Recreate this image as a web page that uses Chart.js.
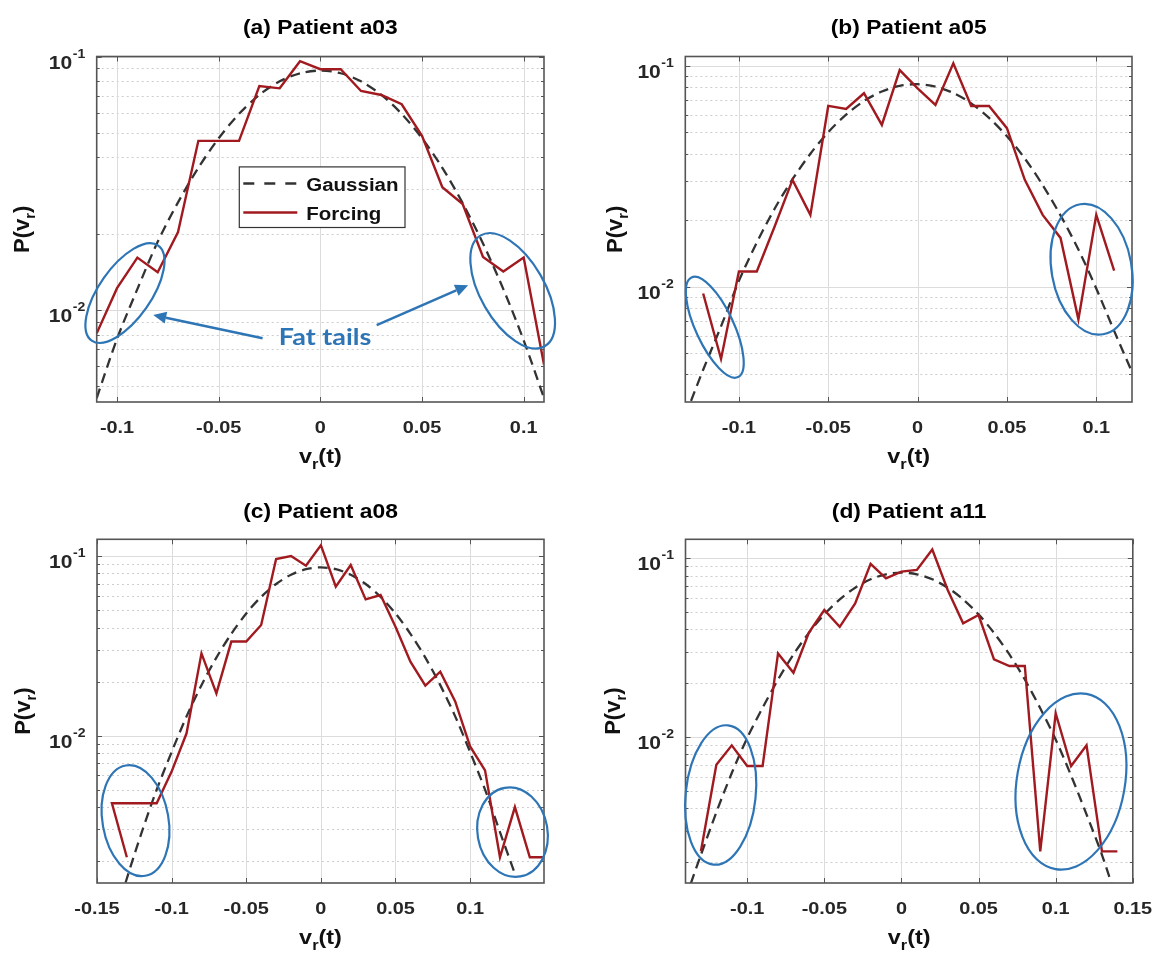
<!DOCTYPE html>
<html lang="en">
<head>
<meta charset="utf-8">
<title>P(v_r) – Gaussian vs forcing</title>
<script src="https://cdn.jsdelivr.net/npm/chart.js@4.4.1/dist/chart.umd.min.js"></script>
<style>
  html, body { margin: 0; padding: 0; background: #ffffff; }
  #figure { position: relative; width: 1161px; height: 954px; overflow: hidden; background: #ffffff; }
  #figure canvas { position: absolute; }
</style>
</head>
<body>
<div id="figure">
  <canvas id="pa" width="580" height="477" style="left:0px;top:0px"></canvas>
  <canvas id="pb" width="581" height="477" style="left:580px;top:0px"></canvas>
  <canvas id="pc" width="580" height="477" style="left:0px;top:477px"></canvas>
  <canvas id="pd" width="581" height="477" style="left:580px;top:477px"></canvas>
</div>
<script>
// ---------- Patient a03 ----------
const binsA = [-0.11, -0.10, -0.09, -0.08, -0.07, -0.06, -0.05, -0.04, -0.03, -0.02, -0.01, 0,
               0.01, 0.02, 0.03, 0.04, 0.05, 0.06, 0.07, 0.08, 0.09, 0.10, 0.11];
const forcingA = [0.0081, 0.0122, 0.0161, 0.0141, 0.0203, 0.0465, 0.0465, 0.0465, 0.0765, 0.0749, 0.0958, 0.0891,
                  0.0891, 0.0731, 0.0705, 0.0648, 0.0487, 0.0305, 0.0262, 0.0162, 0.0142, 0.0161, 0.0061];
const gaussA = [0.0045, 0.0077, 0.0121, 0.0186, 0.0266, 0.0364, 0.0476, 0.0594, 0.0706, 0.0798, 0.0859, 0.0880,
                0.0859, 0.0798, 0.0706, 0.0594, 0.0476, 0.0364, 0.0264, 0.0183, 0.0121, 0.0076, 0.0045];
const xTicksA = [-0.1, -0.05, 0, 0.05, 0.1];

// ---------- Patient a05 ----------
const binsB = [-0.12, -0.11, -0.10, -0.09, -0.08, -0.07, -0.06, -0.05, -0.04, -0.03, -0.02, -0.01, 0,
               0.01, 0.02, 0.03, 0.04, 0.05, 0.06, 0.07, 0.08, 0.09, 0.10, 0.11];
const forcingB = [0.0093, 0.0047, 0.0117, 0.0117, 0.0187, 0.0304, 0.0211, 0.0657, 0.0637, 0.0750, 0.0539, 0.0955, 0.0789,
                  0.0664, 0.1025, 0.0657, 0.0657, 0.0521, 0.0304, 0.0211, 0.0166, 0.0071, 0.0211, 0.0118];
const gaussXB = [-0.13, -0.12, -0.11, -0.10, -0.09, -0.08, -0.07, -0.06, -0.05, -0.04, -0.03, -0.02, -0.01, 0,
                 0.01, 0.02, 0.03, 0.04, 0.05, 0.06, 0.07, 0.08, 0.09, 0.10, 0.11, 0.12];
const gaussB = [0.0026, 0.0042, 0.0066, 0.0106, 0.0158, 0.0225, 0.0306, 0.0399, 0.0500, 0.0600, 0.0692, 0.0764, 0.0810, 0.0824,
                0.0803, 0.0752, 0.0675, 0.0580, 0.0479, 0.0380, 0.0288, 0.0210, 0.0147, 0.0098, 0.0063, 0.0041];
const xTicksB = [-0.1, -0.05, 0, 0.05, 0.1];

// ---------- Patient a08 ----------
const forcingXC = [-0.13, -0.14, -0.11, -0.10, -0.09, -0.08, -0.07, -0.06, -0.05, -0.04, -0.03, -0.02, -0.01, 0,
                   0.01, 0.02, 0.03, 0.04, 0.05, 0.06, 0.07, 0.08, 0.09, 0.10, 0.11, 0.12, 0.13, 0.14, 0.15];
const forcingC = [0.0021, 0.0042, 0.0042, 0.0063, 0.0103, 0.0287, 0.0172, 0.0334, 0.0334, 0.0413, 0.0962, 0.1000, 0.0884, 0.1150,
                  0.0675, 0.0891, 0.0574, 0.0607, 0.0404, 0.0258, 0.0190, 0.0227, 0.0155, 0.0087, 0.0064, 0.0021, 0.0040, 0.0021, 0.0021];
const gaussXC = [-0.14, -0.13, -0.12, -0.11, -0.10, -0.09, -0.08, -0.07, -0.06, -0.05, -0.04, -0.03, -0.02, -0.01, 0,
                 0.01, 0.02, 0.03, 0.04, 0.05, 0.06, 0.07, 0.08, 0.09, 0.10, 0.11, 0.12, 0.13];
const gaussC = [0.00084, 0.0016, 0.0029, 0.0050, 0.0081, 0.0128, 0.0191, 0.0272, 0.0369, 0.0479, 0.0593, 0.0699, 0.0787, 0.0845, 0.0865,
                0.0845, 0.0787, 0.0699, 0.0593, 0.0479, 0.0369, 0.0272, 0.0191, 0.0128, 0.0081, 0.0050, 0.0029, 0.0017];
const xTicksC = [-0.15, -0.1, -0.05, 0, 0.05, 0.1];

// ---------- Patient a11 ----------
const binsD = [-0.13, -0.12, -0.11, -0.10, -0.09, -0.08, -0.07, -0.06, -0.05, -0.04, -0.03, -0.02, -0.01, 0,
               0.01, 0.02, 0.03, 0.04, 0.05, 0.06, 0.07, 0.08, 0.09, 0.10, 0.11, 0.12, 0.13, 0.14];
const forcingD = [0.0023, 0.0070, 0.0090, 0.0069, 0.0069, 0.0294, 0.0229, 0.0384, 0.0514, 0.0414, 0.0560, 0.0930, 0.0773, 0.0842,
                  0.0861, 0.1120, 0.0665, 0.0433, 0.0482, 0.0272, 0.0250, 0.0250, 0.0023, 0.0136, 0.0069, 0.0090, 0.0023, 0.0023];
const gaussXD = [-0.14, -0.13, -0.12, -0.11, -0.10, -0.09, -0.08, -0.07, -0.06, -0.05, -0.04, -0.03, -0.02, -0.01, 0,
                 0.01, 0.02, 0.03, 0.04, 0.05, 0.06, 0.07, 0.08, 0.09, 0.10, 0.11, 0.12, 0.13, 0.14];
const gaussD = [0.00125, 0.0022, 0.0038, 0.0063, 0.0099, 0.0146, 0.0210, 0.0290, 0.0383, 0.0486, 0.0589, 0.0685, 0.0763, 0.0814, 0.0832,
                0.0814, 0.0763, 0.0685, 0.0589, 0.0486, 0.0383, 0.0290, 0.0210, 0.0145, 0.0097, 0.0061, 0.0037, 0.0022, 0.0012];
const xTicksD = [-0.1, -0.05, 0, 0.05, 0.1, 0.15];

// Tail call-outs: centre in data units, radii in px, tilt in degrees
const tailsA = [{ v: -0.0961, p: 0.01167, rx: 58, ry: 26, tilt: -55 }, { v: 0.0946, p: 0.01191, rx: 64, ry: 32, tilt: 60 }];
const tailsB = [{ v: -0.1135, p: 0.00654, rx: 55, ry: 19, tilt: 65 }, { v: 0.0974, p: 0.01197, rx: 66, ry: 40, tilt: 80 }];
const tailsC = [{ v: -0.1242, p: 0.00336, rx: 56, ry: 33, tilt: 80 }, { v: 0.1284, p: 0.0029, rx: 45, ry: 35, tilt: 80 }];
const tailsD = [{ v: -0.1172, p: 0.00475, rx: 70, ry: 35, tilt: -84 }, { v: 0.1099, p: 0.00565, rx: 89, ry: 54, tilt: -80 }];
const arrowsA = [{ from: [-0.0284, 0.00774], to: [-0.0822, 0.00956] }, { from: [0.0277, 0.00873], to: [0.0727, 0.01254] }];
const noteA = { text: 'Fat tails', v: 0.0023, p: 0.0073 };

// ---------- styling ----------
const RED = '#a01a20';
const DASH = '#333333';
const BLUE = '#2e75b6';
const AXIS = '#555555';
const TICK = '#262626';
const GRID = '#dcdcdc';
const MINOR = '#cdcdcd';
const SX = 1.17;                       // horizontal text stretch
const FONT = '"Liberation Sans", Arial, Helvetica, sans-serif';

function measure(ctx, s, font) {
  ctx.save(); ctx.font = font;
  const w = ctx.measureText(s).width * SX;
  ctx.restore();
  return w;
}
function stretchText(ctx, s, x, y, font, color, align) {
  ctx.save();
  ctx.font = font;
  const w = ctx.measureText(s).width * SX;
  const x0 = align === 'center' ? x - w / 2 : align === 'right' ? x - w : x;
  ctx.translate(x0, y);
  ctx.scale(SX, 1);
  ctx.fillStyle = color;
  ctx.textAlign = 'left';
  ctx.textBaseline = 'alphabetic';
  ctx.fillText(s, 0, 0);
  ctx.restore();
  return w;
}
function decadesIn(min, max) {
  const out = [];
  for (let e = Math.floor(Math.log10(min)); e <= Math.ceil(Math.log10(max)); e++) {
    const v = Math.pow(10, e);
    if (v >= min * 0.999 && v <= max * 1.001) out.push(v);
  }
  return out;
}
function minorsIn(min, max) {
  const out = [];
  for (let e = Math.floor(Math.log10(min)); e <= Math.ceil(Math.log10(max)); e++) {
    for (let k = 2; k <= 9; k++) {
      const v = k * Math.pow(10, e);
      if (v > min * 1.001 && v < max * 0.999) out.push(v);
    }
  }
  return out;
}
function arrow(ctx, x1, y1, x2, y2) {
  const ang = Math.atan2(y2 - y1, x2 - x1);
  const len = 13, hw = 6;
  const bx = x2 - len * Math.cos(ang), by = y2 - len * Math.sin(ang);
  ctx.beginPath(); ctx.moveTo(x1, y1); ctx.lineTo(bx, by); ctx.stroke();
  ctx.beginPath();
  ctx.moveTo(x2, y2);
  ctx.lineTo(bx + hw * Math.sin(ang), by - hw * Math.cos(ang));
  ctx.lineTo(bx - hw * Math.sin(ang), by + hw * Math.cos(ang));
  ctx.closePath(); ctx.fill();
}

// MATLAB-like axes box, grid, ticks, labels and call-outs
function makeDecor(panel) {
  return {
    id: 'decor',
    beforeDatasetsDraw(chart) {
      const { ctx, chartArea: ca, scales: { x, y } } = chart;
      ctx.save();
      ctx.beginPath(); ctx.rect(ca.left, ca.top, ca.right - ca.left, ca.bottom - ca.top); ctx.clip();
      ctx.lineWidth = 1;
      ctx.strokeStyle = MINOR;
      ctx.setLineDash([2, 3]);
      for (const v of minorsIn(y.min, y.max)) {
        const py = Math.round(y.getPixelForValue(v)) + 0.5;
        ctx.beginPath(); ctx.moveTo(ca.left, py); ctx.lineTo(ca.right, py); ctx.stroke();
      }
      ctx.setLineDash([]);
      ctx.strokeStyle = GRID;
      for (const v of decadesIn(y.min, y.max)) {
        const py = Math.round(y.getPixelForValue(v)) + 0.5;
        ctx.beginPath(); ctx.moveTo(ca.left, py); ctx.lineTo(ca.right, py); ctx.stroke();
      }
      for (const v of panel.xTicks) {
        const px = Math.round(x.getPixelForValue(v)) + 0.5;
        ctx.beginPath(); ctx.moveTo(px, ca.top); ctx.lineTo(px, ca.bottom); ctx.stroke();
      }
      ctx.restore();
    },
    afterDatasetsDraw(chart) {
      const { ctx, chartArea: ca, scales: { x, y } } = chart;
      const cx = (ca.left + ca.right) / 2, cy = (ca.top + ca.bottom) / 2;
      ctx.save();
      // ticks (inward, all four sides)
      ctx.strokeStyle = AXIS; ctx.lineWidth = 1;
      for (const v of panel.xTicks) {
        const px = Math.round(x.getPixelForValue(v)) + 0.5;
        ctx.beginPath();
        ctx.moveTo(px, ca.bottom); ctx.lineTo(px, ca.bottom - 5);
        ctx.moveTo(px, ca.top); ctx.lineTo(px, ca.top + 5);
        ctx.stroke();
      }
      const yt = decadesIn(y.min, y.max).map(v => [v, 5]).concat(minorsIn(y.min, y.max).map(v => [v, 3]));
      for (const [v, len] of yt) {
        const py = Math.round(y.getPixelForValue(v)) + 0.5;
        ctx.beginPath();
        ctx.moveTo(ca.left, py); ctx.lineTo(ca.left + len, py);
        ctx.moveTo(ca.right, py); ctx.lineTo(ca.right - len, py);
        ctx.stroke();
      }
      // box
      ctx.lineWidth = 1.6;
      ctx.strokeRect(ca.left, ca.top, ca.right - ca.left, ca.bottom - ca.top);

      // x tick labels
      const tickFont = `bold 17px ${FONT}`;
      for (const v of panel.xTicks) {
        stretchText(ctx, String(v), x.getPixelForValue(v), ca.bottom + 30.5, tickFont, TICK, 'center');
      }
      // y tick labels 10^n
      const baseFont = `bold 18px ${FONT}`, supFont = `bold 12px ${FONT}`;
      for (const d of decadesIn(y.min, y.max)) {
        const py = y.getPixelForValue(d);
        const sup = String(Math.round(Math.log10(d)));
        const wSup = measure(ctx, sup, supFont);
        const right = ca.left - 11.5;
        stretchText(ctx, sup, right - wSup, py + 1, supFont, TICK, 'left');
        stretchText(ctx, '10', right - wSup - 0.5, py + 12, baseFont, TICK, 'right');
      }
      // x-axis title  v_r(t)
      const f1 = `bold 20px ${FONT}`, f2 = `bold 14px ${FONT}`;
      const wv = measure(ctx, 'v', f1), wr = measure(ctx, 'r', f2), wt = measure(ctx, '(t)', f1);
      let sx = cx - (wv + wr + wt) / 2;
      const by = ca.bottom + 61;
      stretchText(ctx, 'v', sx, by, f1, '#111', 'left'); sx += wv;
      stretchText(ctx, 'r', sx, by + 6, f2, '#111', 'left'); sx += wr;
      stretchText(ctx, '(t)', sx, by, f1, '#111', 'left');
      // y-axis title  P(v_r)
      ctx.save();
      ctx.translate(ca.left - panel.yTitleGap, cy);
      ctx.rotate(-Math.PI / 2);
      ctx.fillStyle = '#111';
      ctx.textBaseline = 'alphabetic';
      const g1 = `bold 22px ${FONT}`, g2 = `bold 15px ${FONT}`;
      ctx.font = g1; const wa = ctx.measureText('P(v').width, wc = ctx.measureText(')').width;
      ctx.font = g2; const wsub = ctx.measureText('r').width;
      let lx = -(wa + wsub + wc) / 2;
      ctx.font = g1; ctx.fillText('P(v', lx, 0); lx += wa;
      ctx.font = g2; ctx.fillText('r', lx, 6); lx += wsub;
      ctx.font = g1; ctx.fillText(')', lx, 0);
      ctx.restore();
      // panel title
      stretchText(ctx, panel.title, cx, ca.top - panel.titleGap, `bold 19.5px ${FONT}`, '#000', 'center');

      // legend
      if (panel.legend) {
        const L = ca.left + 142.6, T = ca.top + 110.4, W = 165.7, H = 60.6;
        ctx.fillStyle = '#ffffff'; ctx.fillRect(L, T, W, H);
        ctx.strokeStyle = '#333333'; ctx.lineWidth = 1.2; ctx.strokeRect(L, T, W, H);
        const legFont = `bold 17.5px ${FONT}`;
        const r1 = T + 16.6, r2 = T + 45.6;
        ctx.lineWidth = 2.3;
        ctx.strokeStyle = DASH; ctx.setLineDash([11, 10]);
        ctx.beginPath(); ctx.moveTo(L + 4, r1); ctx.lineTo(L + 58, r1); ctx.stroke();
        ctx.setLineDash([]);
        ctx.strokeStyle = RED;
        ctx.beginPath(); ctx.moveTo(L + 4, r2); ctx.lineTo(L + 58, r2); ctx.stroke();
        stretchText(ctx, 'Gaussian', L + 67, r1 + 7, legFont, '#111', 'left');
        stretchText(ctx, 'Forcing', L + 67, r2 + 7, legFont, '#111', 'left');
      }

      // tail call-outs
      ctx.strokeStyle = BLUE; ctx.fillStyle = BLUE; ctx.lineWidth = 2.2;
      for (const e of panel.tails) {
        ctx.beginPath();
        ctx.ellipse(x.getPixelForValue(e.v), y.getPixelForValue(e.p), e.rx, e.ry, e.tilt * Math.PI / 180, 0, 2 * Math.PI);
        ctx.stroke();
      }
      ctx.lineWidth = 2.5;
      for (const a of panel.arrows) {
        arrow(ctx, x.getPixelForValue(a.from[0]), y.getPixelForValue(a.from[1]),
                   x.getPixelForValue(a.to[0]), y.getPixelForValue(a.to[1]));
      }
      if (panel.note) {
        stretchText(ctx, panel.note.text, x.getPixelForValue(panel.note.v), y.getPixelForValue(panel.note.p),
                    'bold 23px Lato, "Open Sans", sans-serif', BLUE, 'center');
      }
      ctx.restore();
    }
  };
}

const panels = [
  { canvas: 'pa', title: '(a) Patient a03', fx: binsA, fy: forcingA, gx: binsA, gy: gaussA,
    xRange: [-0.11, 0.11], yRange: [0.00434, 0.1], xTicks: xTicksA,
    pad: { left: 96.7, right: 36, top: 56.5, bottom: 75 }, titleGap: 23, yTitleGap: 68,
    legend: true, tails: tailsA, arrows: arrowsA, note: noteA },
  { canvas: 'pb', title: '(b) Patient a05', fx: binsB, fy: forcingB, gx: gaussXB, gy: gaussB,
    xRange: [-0.13, 0.12], yRange: [0.003, 0.11], xTicks: xTicksB,
    pad: { left: 105.3, right: 29, top: 56.5, bottom: 75 }, titleGap: 23, yTitleGap: 63,
    legend: false, tails: tailsB, arrows: [], note: null },
  { canvas: 'pc', title: '(c) Patient a08', fx: forcingXC, fy: forcingC, gx: gaussXC, gy: gaussC,
    xRange: [-0.15, 0.1495], yRange: [0.00151, 0.124], xTicks: xTicksC,
    pad: { left: 97, right: 36, top: 62.3, bottom: 71 }, titleGap: 21.5, yTitleGap: 67,
    legend: false, tails: tailsC, arrows: [], note: null },
  { canvas: 'pd', title: '(d) Patient a11', fx: binsD, fy: forcingD, gx: gaussXD, gy: gaussD,
    xRange: [-0.14, 0.15], yRange: [0.00153, 0.1277], xTicks: xTicksD,
    pad: { left: 105.5, right: 28.2, top: 62.3, bottom: 71 }, titleGap: 21.5, yTitleGap: 66,
    legend: false, tails: tailsD, arrows: [], note: null }
];

for (const panel of panels) {
  new Chart(document.getElementById(panel.canvas), {
    type: 'scatter',
    data: {
      datasets: [
        { label: 'Forcing', data: panel.fx.map((v, i) => ({ x: v, y: panel.fy[i] })),
          showLine: true, borderColor: RED, borderWidth: 2.4, pointRadius: 0, tension: 0, order: 0 },
        { label: 'Gaussian', data: panel.gx.map((v, i) => ({ x: v, y: panel.gy[i] })),
          showLine: true, borderColor: DASH, borderWidth: 2.3, borderDash: [10, 6], pointRadius: 0,
          tension: 0.3, order: 1 }
      ]
    },
    options: {
      responsive: false,
      animation: false,
      devicePixelRatio: 1,
      events: [],
      layout: { padding: panel.pad },
      plugins: { legend: { display: false }, tooltip: { enabled: false }, title: { display: false } },
      scales: {
        x: { type: 'linear', min: panel.xRange[0], max: panel.xRange[1], display: false },
        y: { type: 'logarithmic', min: panel.yRange[0], max: panel.yRange[1], display: false }
      }
    },
    plugins: [makeDecor(panel)]
  });
}
</script>
</body>
</html>
